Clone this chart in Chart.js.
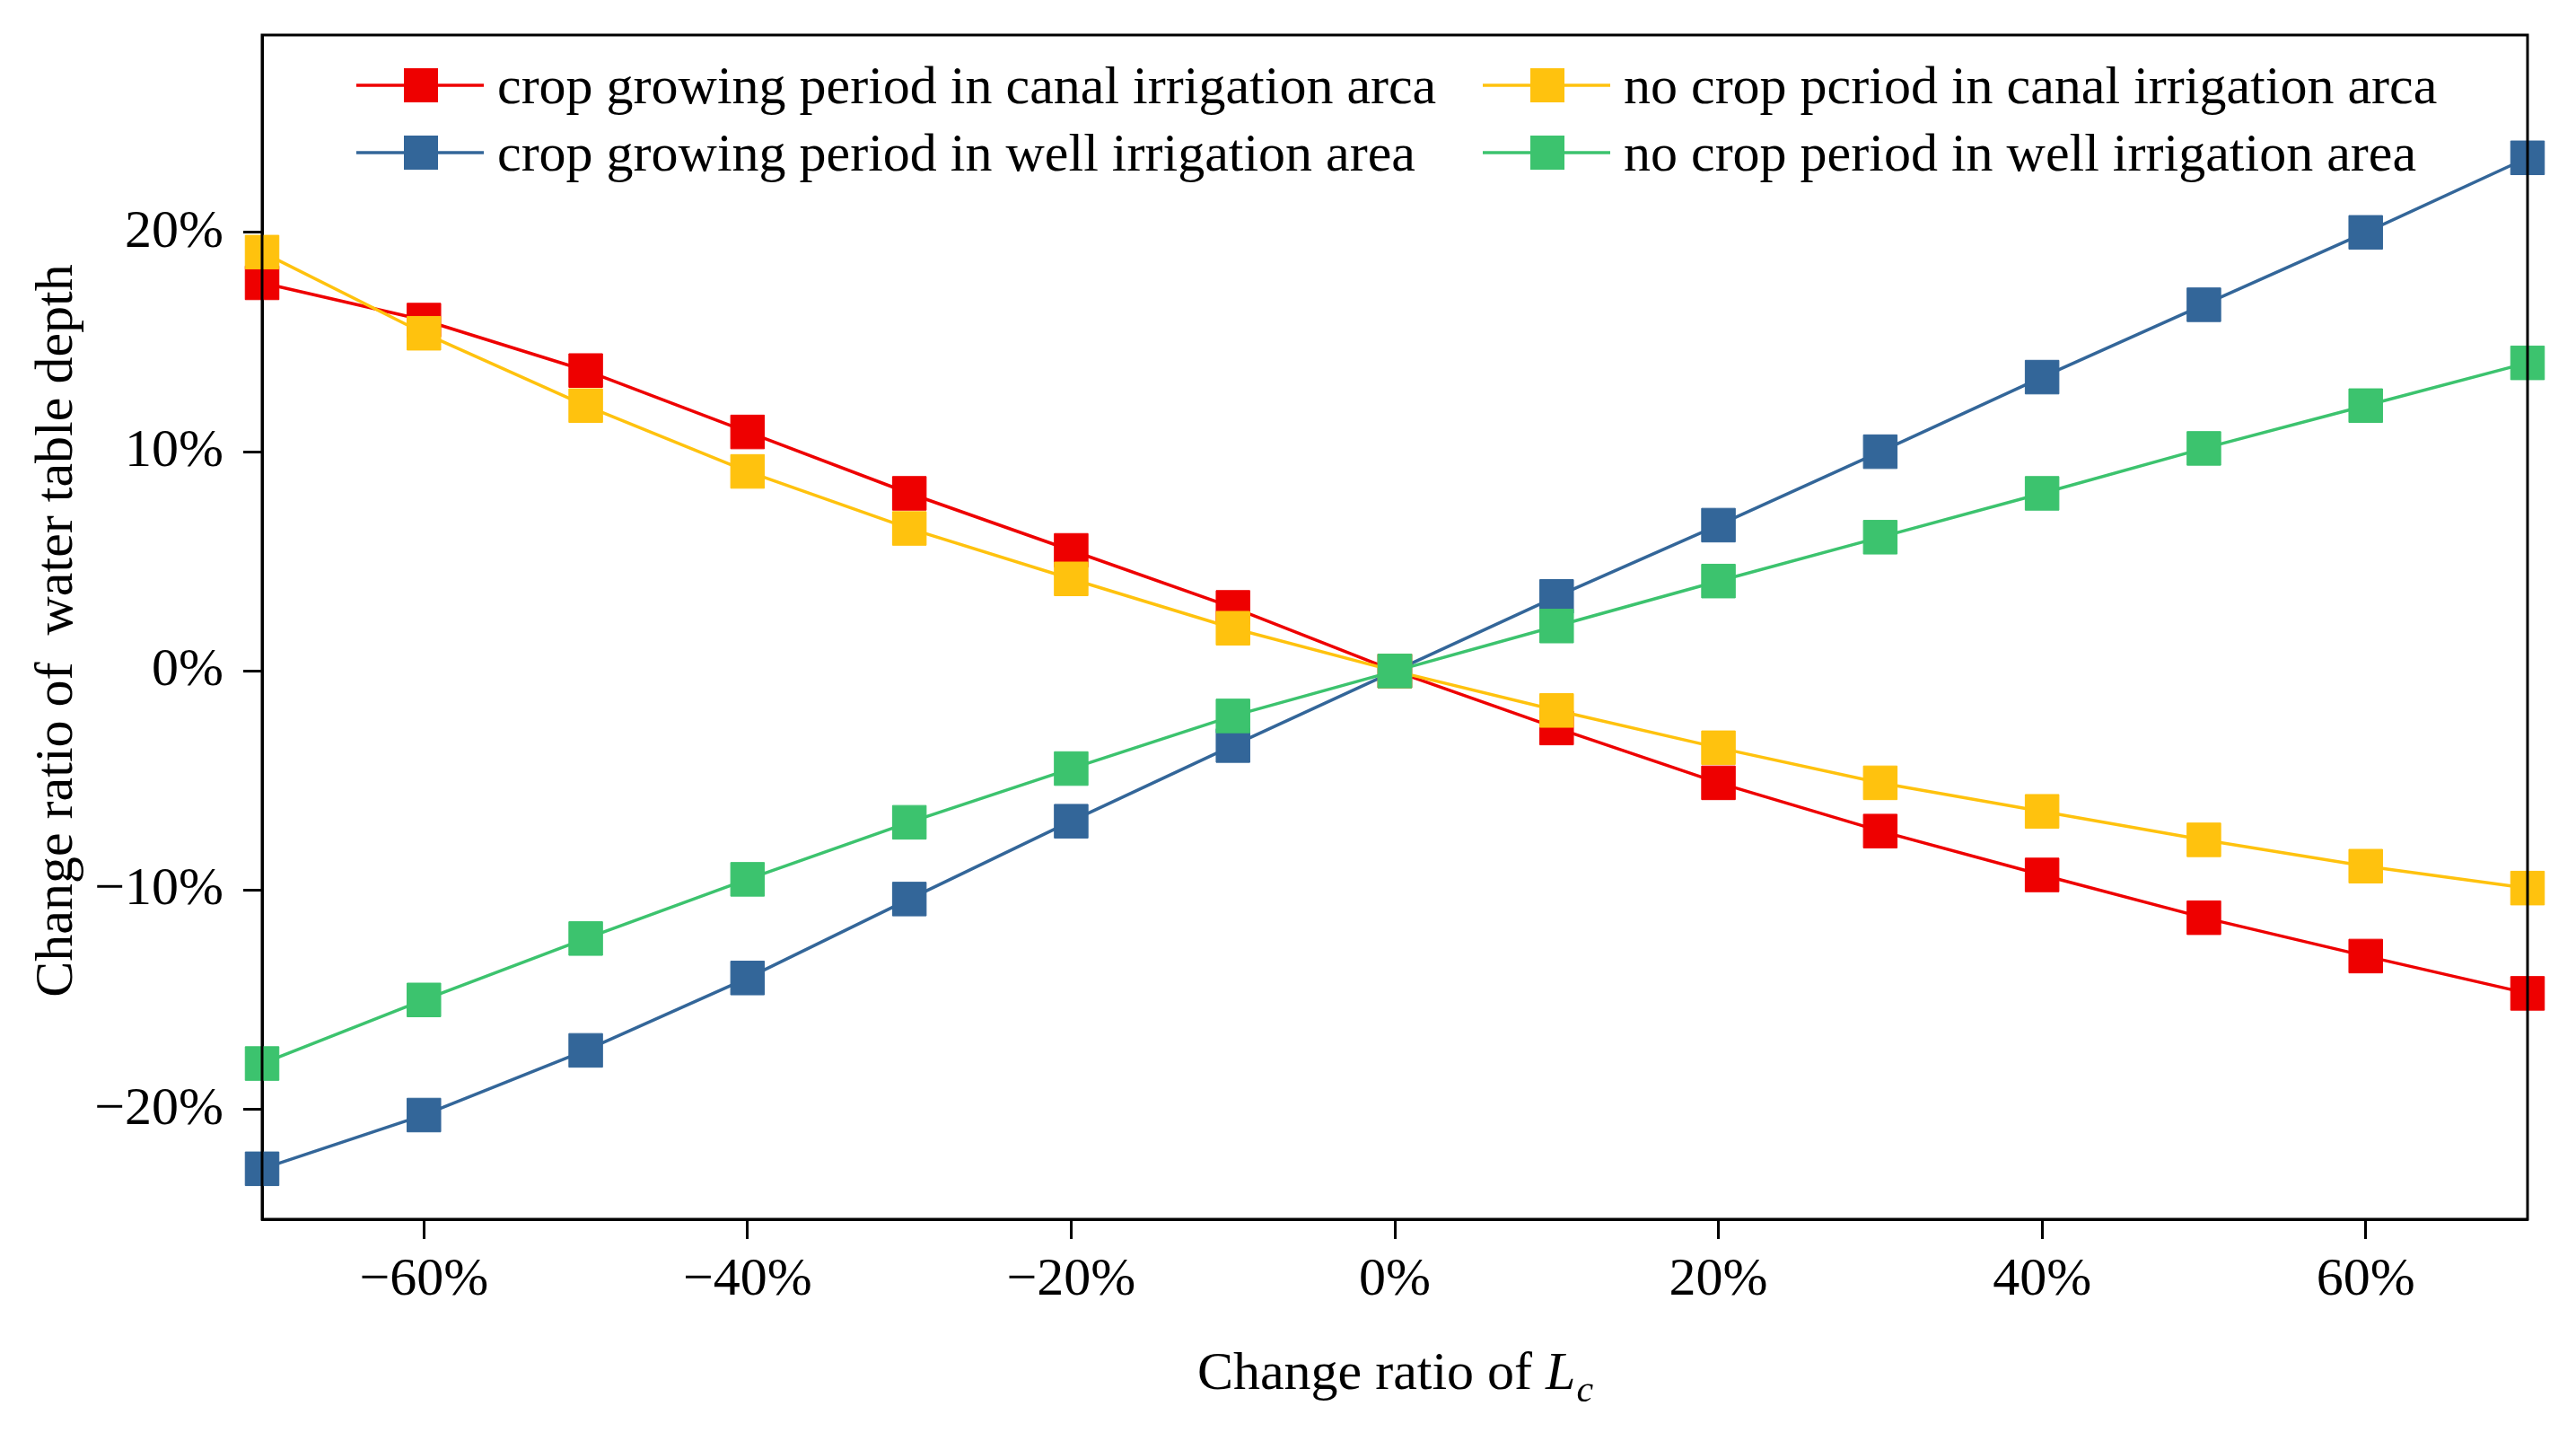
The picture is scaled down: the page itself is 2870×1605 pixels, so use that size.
<!DOCTYPE html>
<html>
<head>
<meta charset="utf-8">
<script src="https://cdn.jsdelivr.net/npm/chart.js@4.4.0/dist/chart.umd.min.js"></script>
<style>
  html, body { margin: 0; padding: 0; background: #fff; }
</style>
</head>
<body>
<canvas id="depthChart" width="2870" height="1605"></canvas>
<script>
// change ratio of Lc (x) and change ratio of water table depth (y), in %
const changeRatio = [-70, -60, -50, -40, -30, -20, -10, 0, 10, 20, 30, 40, 50, 60, 70];
const cropCanal   = [17.7, 16.0, 13.7, 10.9, 8.1, 5.5, 2.9, 0, -2.6, -5.1, -7.3, -9.3, -11.25, -13.0, -14.7];
const noCropCanal = [19.1, 15.4, 12.1, 9.1, 6.5, 4.2, 1.95, 0, -1.8, -3.5, -5.1, -6.4, -7.7, -8.9, -9.9];
const cropWell    = [-22.7, -20.25, -17.3, -14.0, -10.4, -6.85, -3.4, 0, 3.4, 6.65, 10.0, 13.4, 16.7, 20.0, 23.4];
const noCropWell  = [-17.9, -15.0, -12.2, -9.5, -6.9, -4.45, -2.05, 0, 2.05, 4.1, 6.1, 8.1, 10.15, 12.1, 14.05];

const seriesNames = [
    'crop growing period in canal irrigation arca',
    'no crop pcriod in canal irrigation arca',
    'crop growing period in well irrigation area',
    'no crop period in well irrigation area'
];
const xTickValues = [-60, -40, -20, 0, 20, 40, 60];
const yTickValues = [-20, -10, 0, 10, 20];

const FONT = "'Liberation Serif', 'Times New Roman', serif";

function pct(v) {
    return (v < 0 ? '\u2212' : '') + Math.abs(v) + '%';
}

function makeSeries(name, values, color, order) {
    return {
        label: name,
        data: changeRatio.map((x, i) => ({ x: x, y: values[i] })),
        borderColor: color,
        backgroundColor: color,
        borderWidth: 3.5,
        pointStyle: 'rect',
        pointRadius: 26.5,
        pointBorderWidth: 1,
        pointHoverRadius: 26.5,
        clip: false,
        order: order
    };
}

// legend inside the plot, two columns
const insideLegend = {
    id: 'insideLegend',
    afterDraw(chart) {
        const ctx = chart.ctx;
        const area = chart.chartArea;
        const colX = [area.left + 105, area.left + 1360];
        const rowY = [area.top + 56, area.top + 131];
        ctx.save();
        ctx.font = '60px ' + FONT;
        ctx.textBaseline = 'alphabetic';
        chart.data.datasets.forEach((ds, i) => {
            const x = colX[i % 2];
            const y = rowY[Math.floor(i / 2)];
            ctx.strokeStyle = ds.borderColor;
            ctx.lineWidth = 3.5;
            ctx.beginPath();
            ctx.moveTo(x, y);
            ctx.lineTo(x + 142, y);
            ctx.stroke();
            ctx.fillStyle = ds.backgroundColor;
            ctx.fillRect(x + 53, y - 19, 38, 38);
            ctx.fillStyle = '#000';
            ctx.fillText(ds.label, x + 157, y + 20);
        });
        ctx.restore();
    }
};

// frame and axis titles
const frameAndTitles = {
    id: 'frameAndTitles',
    afterDatasetsDraw(chart) {
        const ctx = chart.ctx;
        const a = chart.chartArea;
        ctx.save();
        ctx.strokeStyle = '#000';
        ctx.lineWidth = 3;
        ctx.strokeRect(a.left, a.top, a.right - a.left, a.bottom - a.top);
        ctx.restore();
    },
    afterDraw(chart) {
        const ctx = chart.ctx;
        const a = chart.chartArea;
        ctx.save();
        ctx.fillStyle = '#000';
        ctx.textBaseline = 'alphabetic';

        // x title: Change ratio of L_c
        const main = 'Change ratio of ';
        ctx.font = '60px ' + FONT;
        const w1 = ctx.measureText(main).width;
        ctx.font = 'italic 60px ' + FONT;
        const w2 = ctx.measureText('L').width;
        ctx.font = 'italic 42px ' + FONT;
        const w3 = ctx.measureText('c').width;
        let x = (a.left + a.right) / 2 - (w1 + w2 + w3) / 2;
        const y = a.bottom + 189;
        ctx.textAlign = 'left';
        ctx.font = '60px ' + FONT;
        ctx.fillText(main, x, y);
        ctx.font = 'italic 60px ' + FONT;
        ctx.fillText('L', x + w1, y);
        ctx.font = 'italic 42px ' + FONT;
        ctx.fillText('c', x + w1 + w2 + 1, y + 14);

        // y title
        ctx.translate(80, (a.top + a.bottom) / 2 + 4);
        ctx.rotate(-Math.PI / 2);
        ctx.textAlign = 'center';
        ctx.font = '60px ' + FONT;
        ctx.fillText('Change ratio of  water table depth', 0, 0);
        ctx.restore();
    }
};

document.addEventListener('DOMContentLoaded', function() {
    const canvas = document.getElementById('depthChart');
    const ctx = canvas.getContext('2d');

    new Chart(ctx, {
        type: 'line',
        data: {
            datasets: [
                makeSeries(seriesNames[0], cropCanal, '#EE0000', 4),
                makeSeries(seriesNames[1], noCropCanal, '#FFC20E', 2),
                makeSeries(seriesNames[2], cropWell, '#336699', 3),
                makeSeries(seriesNames[3], noCropWell, '#3CC36E', 1)
            ]
        },
        options: {
            responsive: false,
            animation: false,
            devicePixelRatio: 1,
            layout: {
                padding: { top: 39, right: 54, left: 0, bottom: 0 }
            },
            plugins: {
                legend: { display: false },
                tooltip: { enabled: false }
            },
            scales: {
                x: {
                    type: 'linear',
                    min: -70,
                    max: 70,
                    afterBuildTicks: function(scale) {
                        scale.ticks = xTickValues.map(v => ({ value: v }));
                    },
                    afterFit: function(scale) {
                        scale.height = 247;
                        scale.paddingLeft = 0;
                        scale.paddingRight = 0;
                    },
                    grid: {
                        drawOnChartArea: false,
                        drawTicks: true,
                        tickLength: 22,
                        tickWidth: 3,
                        tickColor: '#000'
                    },
                    border: { display: true, color: '#000', width: 3 },
                    ticks: {
                        color: '#000',
                        padding: 10,
                        maxRotation: 0,
                        font: { family: FONT, size: 60 },
                        callback: function(value) { return pct(value); }
                    }
                },
                y: {
                    type: 'linear',
                    min: -25,
                    max: 29,
                    afterBuildTicks: function(scale) {
                        scale.ticks = yTickValues.map(v => ({ value: v }));
                    },
                    afterFit: function(scale) {
                        scale.width = 292;
                        scale.paddingTop = 0;
                        scale.paddingBottom = 0;
                    },
                    grid: {
                        drawOnChartArea: false,
                        drawTicks: true,
                        tickLength: 21,
                        tickWidth: 3,
                        tickColor: '#000'
                    },
                    border: { display: true, color: '#000', width: 3 },
                    ticks: {
                        color: '#000',
                        padding: 22,
                        font: { family: FONT, size: 60 },
                        callback: function(value) { return pct(value); }
                    }
                }
            }
        },
        plugins: [insideLegend, frameAndTitles]
    });
});
</script>
</body>
</html>
